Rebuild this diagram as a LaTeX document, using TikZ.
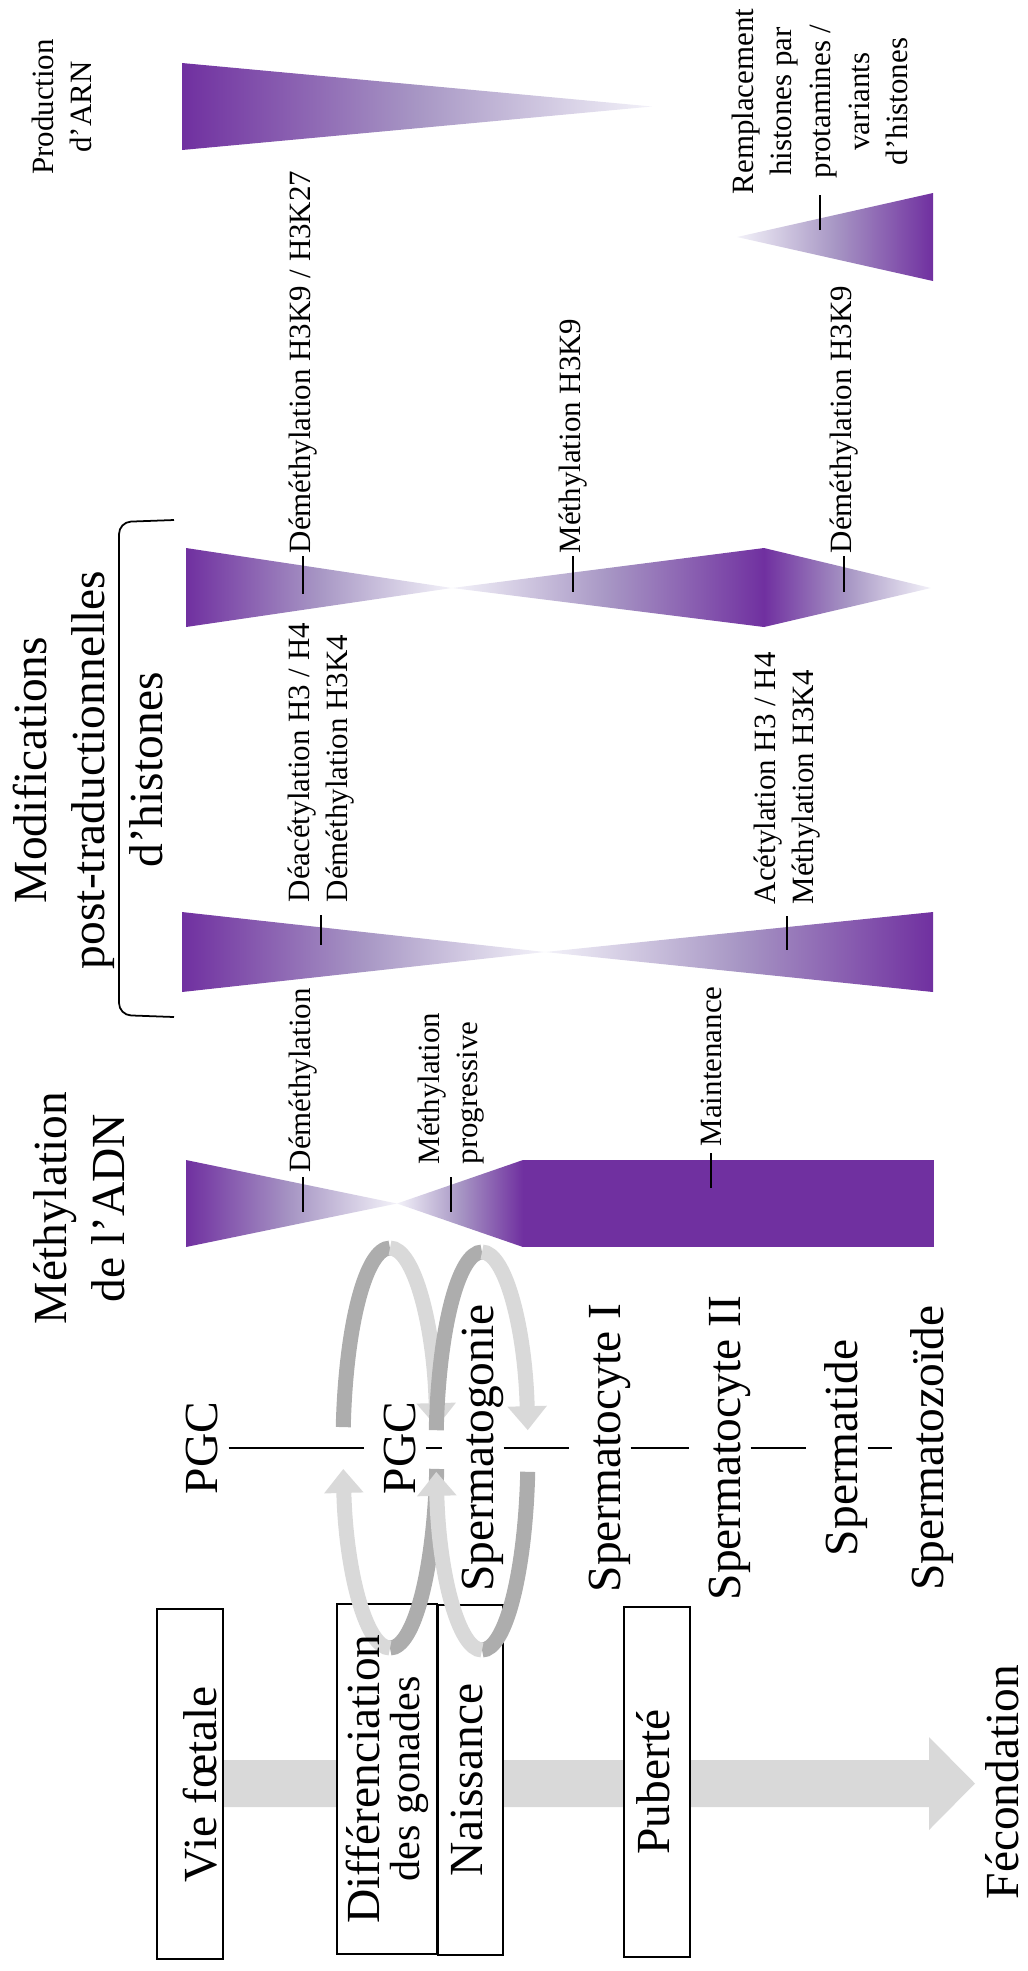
\documentclass[tikz,border=0pt]{standalone}
\usepackage{fontspec}
\setmainfont{Liberation Serif}
\usetikzlibrary{arrows.meta}
\definecolor{Purp}{HTML}{7030A0}
\definecolor{PurpMid}{HTML}{A796C4}
\definecolor{Lav}{HTML}{F3F2F9}
\definecolor{RibDark}{HTML}{ADADAD}
\definecolor{RibLight}{HTML}{D9D9D9}
\definecolor{Track}{HTML}{D9D9D9}

\begin{document}
\begin{tikzpicture}[x=0.01cm,y=-0.01cm,
    fadeR/.style={left color=Purp,right color=Lav,middle color=PurpMid},
    fadeL/.style={left color=Lav,right color=Purp,middle color=PurpMid},
    bigtxt/.style={rotate=90,anchor=base,inner sep=0pt,font=\fontsize{13.5}{16}\selectfont},
    stage/.style={bigtxt,text height=0.50cm,text depth=0.10cm},
    period/.style={draw,line width=0.45pt,fill=white,rotate=90,inner sep=0pt,
      minimum width=3.5cm,minimum height=0.66cm},
    boxtxt/.style={rotate=90,inner sep=0pt,font=\fontsize{13.5}{16}\selectfont},
    oneline/.style={text height=0.34cm,text depth=0.10cm},
    lbl/.style={rotate=90,anchor=west,inner sep=0pt,font=\fontsize{8.8}{11}\selectfont},
    heading/.style={rotate=90,align=center,inner sep=0pt,font=\fontsize{13.5}{16.5}\selectfont},
    tickln/.style={line width=0.5pt},
    rdark/.style={draw=RibDark,line width=0.15cm},
    rlight/.style={draw=RibLight,line width=0.15cm,-{Triangle[width=0.38cm,length=0.24cm]}}]
  \useasboundingbox (0,0) rectangle (1028,1971);

  % time line
  \fill[Track] (190,1760) -- (929,1760) -- (929,1737) -- (975,1783.5)
    -- (929,1830) -- (929,1807) -- (190,1807) -- cycle;
  \node[period] (vie) at (190,1784) {};
  \node[period,minimum height=1.0cm] (diff) at (387,1779) {};
  \node[period,minimum height=0.65cm] (naiss) at (470.5,1780) {};
  \node[period] (pub) at (657,1782) {};
  \node[bigtxt] (fecond) at (1018,1782) {Fécondation};

  % headings
  \node[heading] (hdADN) at (79,1208) {Méthylation\\de l’ADN};
  \node[heading] (hdHist) at (88,770) {Modifications\\post-traductionnelles\\d’histones};
  \draw[line width=0.5pt,rounded corners=0.12cm] (174,520) -- (119,522) -- (119,1015) -- (174,1017);

  % ADN
  \shade[fadeR] (186,1160) -- (397,1203.5) -- (186,1247) -- cycle;
  \shade[fadeL] (397,1203.5) -- (523,1160) -- (523,1247) -- cycle;
  \fill[Purp] (522.5,1160) rectangle (934,1247);
  % histones 1
  \shade[fadeR] (182,912) -- (545,952) -- (182,992) -- cycle;
  \shade[fadeL] (545,952) -- (933,912) -- (933,992) -- cycle;
  % histones 2
  \shade[fadeR] (186,548) -- (452,588) -- (186,627) -- cycle;
  \shade[fadeL] (452,588) -- (764,548) -- (764,627) -- cycle;
  \shade[fadeR] (764,548) -- (931,588) -- (764,627) -- cycle;
  % ARN, protamines
  \shade[fadeR] (182,63) -- (652,106.5) -- (182,150) -- cycle;
  \shade[fadeL] (737,237) -- (933,193) -- (933,281) -- cycle;

  % labels
  \node[lbl,inner xsep=0.04cm] (lblA1) at (303,1177) {Déméthylation};
  \node[lbl,align=left,inner xsep=0.12cm] (lblA2) at (451,1177) {Méthylation\\progressive};
  \node[lbl,inner xsep=0.06cm] (lblA3) at (711,1153) {Maintenance};
  \node[lbl,align=left,inner xsep=0.12cm] (lblB1) at (321,915) {Déacétylation H3 / H4\\Déméthylation H3K4};
  \node[lbl,align=left,inner xsep=0.11cm] (lblB2) at (787,916) {Acétylation H3 / H4\\Méthylation H3K4};
  \node[lbl,inner xsep=0.02cm] (lblC1) at (303,556) {Déméthylation H3K9 / H3K27};
  \node[lbl,inner xsep=0.02cm] (lblC2) at (573,556) {Méthylation H3K9};
  \node[lbl,inner xsep=0.02cm] (lblC3) at (844,556) {Déméthylation H3K9};
  \node[lbl,align=center] (lblRempl) at (820,195) {Remplacement\\histones par\\protamines /\\variants\\d’histones};
  \node[lbl,anchor=center,align=center] (lblProd) at (62,107) {Production\\d’ARN};

  \coordinate (tA1) at (303,1212);
  \coordinate (tA2) at (451,1212);
  \coordinate (tA3) at (711,1188);
  \coordinate (tB1) at (321,945);
  \coordinate (tB2) at (787,950);
  \coordinate (tC1) at (303,594);
  \coordinate (tC2) at (573,592);
  \coordinate (tC3) at (844,592);
  \coordinate (tD) at (820,230);
  \draw[tickln] (lblA1) -- (tA1);
  \draw[tickln] (lblA2) -- (tA2);
  \draw[tickln] (lblA3) -- (tA3);
  \draw[tickln] (lblB1) -- (tB1);
  \draw[tickln] (lblB2) -- (tB2);
  \draw[tickln] (lblC1) -- (tC1);
  \draw[tickln] (lblC2) -- (tC2);
  \draw[tickln] (lblC3) -- (tC3);
  \draw[tickln] (lblRempl) -- (tD);

  % cell stages
  \node[stage] (pgcA) at (218,1448) {PGC};
  \node[stage] (pgcB) at (415,1448) {PGC};
  \node[stage] (spgon) at (493,1448) {Spermatogonie};
  \node[stage] (spcI) at (620,1448) {Spermatocyte I};
  \node[stage] (spcII) at (740,1448) {Spermatocyte II};
  \node[stage] (sptid) at (857,1448) {Spermatide};
  \node[stage] (spzoo) at (943,1448) {Spermatozoïde};
  \draw[line width=0.35pt] (pgcA) -- (pgcB) -- (spgon) -- (spcI) -- (spcII) -- (sptid) -- (spzoo);

  % self-renewal loops
  \coordinate (loopA) at (390,1448);
  \draw[rdark] (loopA) ++(186:47 and 200) arc[start angle=186,end angle=270,x radius=47,y radius=200];
  \draw[rlight] (loopA) ++(270:47 and 200) arc[start angle=270,end angle=354,x radius=47,y radius=200];
  \draw[rdark] (loopA) ++(6:47 and 200) arc[start angle=6,end angle=90,x radius=47,y radius=200];
  \draw[rlight] (loopA) ++(90:47 and 200) arc[start angle=90,end angle=174,x radius=47,y radius=200];
  \coordinate (loopB) at (482,1451);
  \draw[rdark] (loopB) ++(186:46 and 199) arc[start angle=186,end angle=270,x radius=46,y radius=199];
  \draw[rlight] (loopB) ++(270:46 and 199) arc[start angle=270,end angle=354,x radius=46,y radius=199];
  \draw[rdark] (loopB) ++(6:46 and 199) arc[start angle=6,end angle=90,x radius=46,y radius=199];
  \draw[rlight] (loopB) ++(90:46 and 199) arc[start angle=90,end angle=174,x radius=46,y radius=199];

  % period texts, above the loops
  \node[boxtxt,oneline,text height=0.62cm] at (vie) {Vie fœtale};
  \node[boxtxt,align=center,font=\fontsize{13.5}{11.4}\selectfont] at (diff)
    {Différenciation\\{\fontsize{12}{11.4}\selectfont des gonades}};
  \node[boxtxt,oneline] at (naiss) {Naissance};
  \node[boxtxt,oneline] at (pub) {Puberté};
\end{tikzpicture}
\end{document}
